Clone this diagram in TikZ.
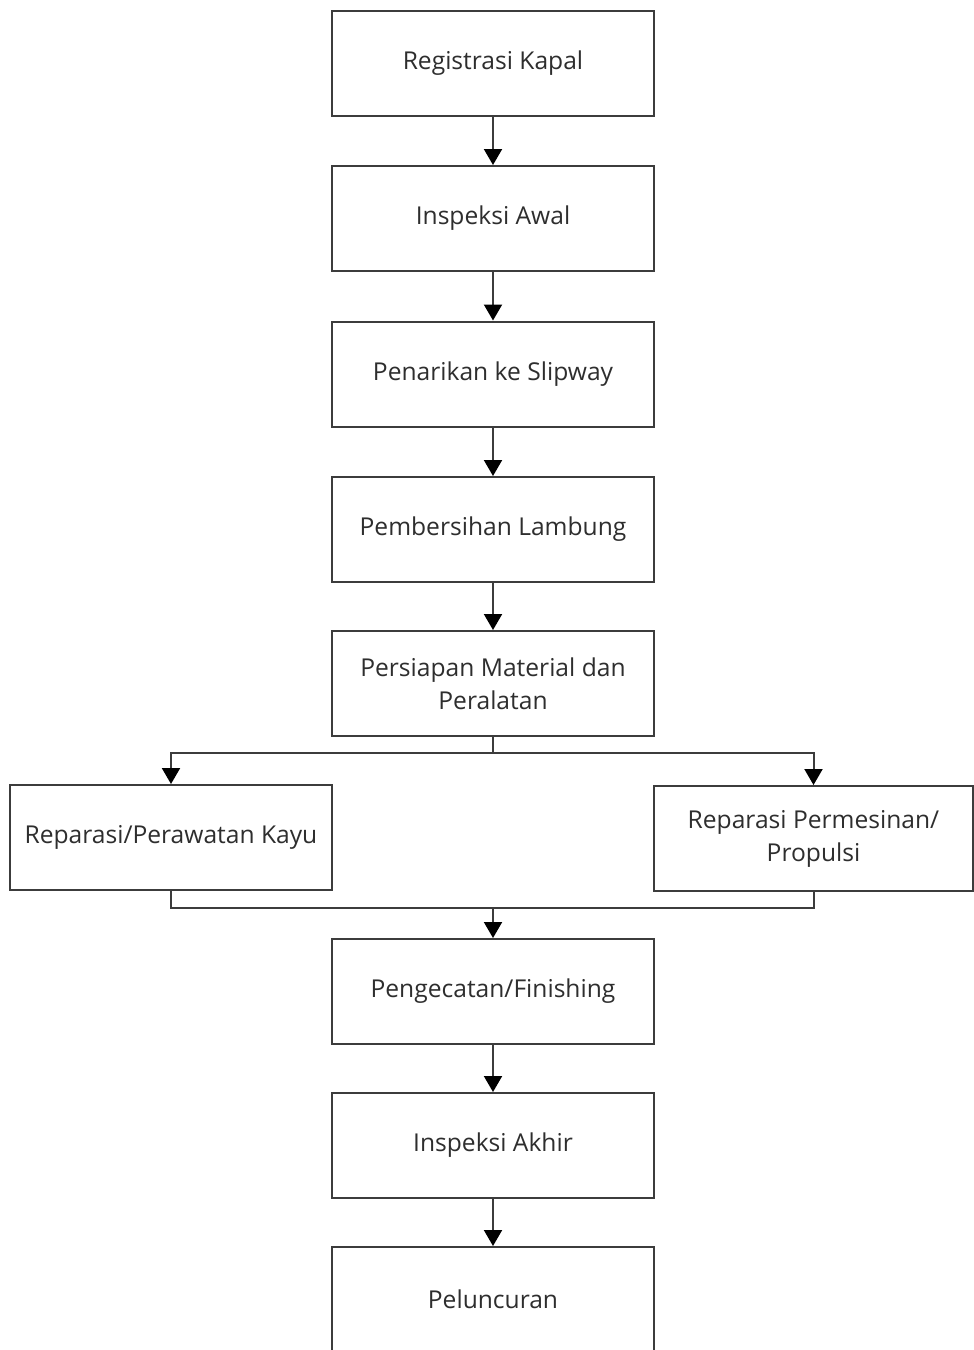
\documentclass[tikz,border=0pt]{standalone}
\usepackage{fontspec}
\setmainfont{Open Sans}
\usetikzlibrary{arrows.meta}

\definecolor{linegray}{HTML}{3C3C3C}
\definecolor{textgray}{HTML}{2E2E2E}

\tikzset{
  stepbox/.style={draw=linegray, line width=1pt, minimum width=161pt, minimum height=52.5pt,
    inner sep=0pt, align=center, text=textgray,
    font=\fontsize{12.3}{16.5}\selectfont},
  arr/.style={draw=linegray, line width=1pt, -{Triangle[width=9pt,length=8pt,color=black]}},
  ln/.style={draw=linegray, line width=1pt}
}

\begin{document}
\begin{tikzpicture}[x=0.5pt,y=-0.5pt]
   \clip (0,0) rectangle (974,1350);
   \fill[white] (0,0) rectangle (974,1350);

   \node[stepbox] (reg)    at (493,63.5)  {Registrasi Kapal};
   \node[stepbox] (awal)   at (493,218.5) {Inspeksi Awal};
   \node[stepbox] (tarik)  at (493,374)   {Penarikan ke Slipway};
   \node[stepbox] (bersih) at (493,529.5) {Pembersihan Lambung};
   \node[stepbox] (siap)   at (493,683.5) {Persiapan Material dan\\Peralatan};
   \node[stepbox] (kayu)   at (171,837.5) {Reparasi/Perawatan Kayu};
   \node[stepbox, minimum width=159.5pt] (mesin) at (813.5,838.5) {Reparasi Permesinan/\\Propulsi};
   \node[stepbox] (cat)    at (493,991.5) {Pengecatan/Finishing};
   \node[stepbox] (akhir)  at (493,1145.5) {Inspeksi Akhir};
   \node[stepbox] (luncur) at (493,1299.5) {Peluncuran};

   \coordinate (split) at (493,753);
   \coordinate (join)  at (493,908);

   \path[arr] (reg) edge (awal);
   \path[arr] (awal) edge (tarik);
   \path[arr] (tarik) edge (bersih);
   \path[arr] (bersih) edge (siap);
   \draw[ln] (siap) -- (split);
   \draw[arr] (split) -| (kayu);
   \draw[arr] (split) -| (mesin);
   \draw[ln] (kayu) |- (join);
   \draw[ln] (mesin) |- (join);
   \draw[arr] (join) -- (cat);
   \path[arr] (cat) edge (akhir);
   \path[arr] (akhir) edge (luncur);
\end{tikzpicture}
\end{document}
